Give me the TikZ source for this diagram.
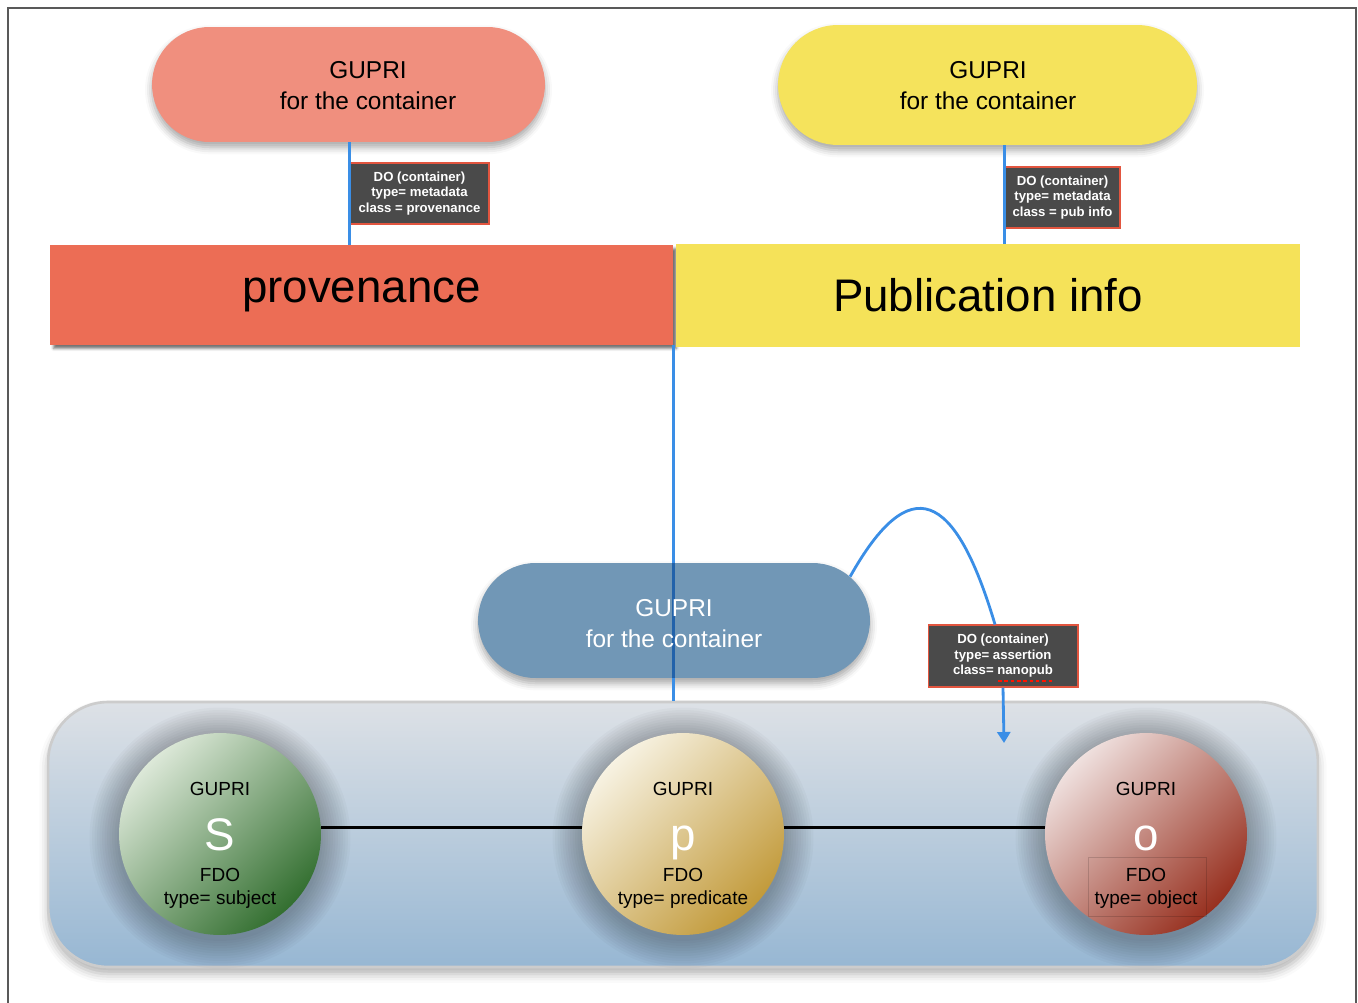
\documentclass[tikz,border=0pt]{standalone}
\usepackage{fontspec}
\setmainfont{Liberation Sans}
\usetikzlibrary{arrows.meta, shapes.misc, calc, shadows.blur}

\definecolor{pillred}{HTML}{F08F7E}
\definecolor{pillyellow}{HTML}{F5E35C}
\definecolor{pillblue}{HTML}{7197B6}
\definecolor{provred}{HTML}{EC6D55}
\definecolor{pubyellow}{HTML}{F5E259}
\definecolor{linkblue}{HTML}{3A8EE6}
\definecolor{linkdark}{HTML}{2262AA}
\definecolor{tagfill}{HTML}{4A4A4A}
\definecolor{tagline}{HTML}{E2553F}
\definecolor{traytop}{HTML}{DDE1E6}
\definecolor{traybottom}{HTML}{97B7D3}
\definecolor{sLite}{HTML}{DCE8D8}
\definecolor{sDark}{HTML}{336F30}
\definecolor{pLite}{HTML}{F7F2E2}
\definecolor{pDark}{HTML}{C29A3A}
\definecolor{oLite}{HTML}{EFE0DE}
\definecolor{oDark}{HTML}{97301F}

\begin{document}
\begin{tikzpicture}[x=0.02cm, y=-0.02cm,
    pill/.style={rounded rectangle, inner sep=0pt,
        blur shadow={shadow xshift=0pt, shadow yshift=-3pt, shadow blur radius=4pt, shadow opacity=35}},
    pilltext/.style={align=center, font=\fontsize{13.9}{17.6}\selectfont},
    band/.style={inner sep=0pt, minimum height=2cm, font=\fontsize{26}{30}\selectfont},
    tag/.style={draw=tagline, line width=0.6pt, fill=tagfill, text=white, inner sep=0pt,
        align=center, minimum height=1.22cm, font=\fontsize{7.5}{8.8}\selectfont\bfseries},
    link/.style={linkblue, line width=1.6pt},
    tray/.style={rounded corners=1.2cm, draw=black!20, line width=1.5pt, inner sep=0pt,
        top color=traytop, bottom color=traybottom,
        blur shadow={shadow xshift=0pt, shadow yshift=-4pt, shadow blur radius=5pt, shadow opacity=30}},
    fdo/.style={circle, minimum size=4.04cm, inner sep=0pt},
    halo/.style={black, opacity=0.022},
    fdotext/.style={align=center, font=\fontsize{10.8}{13}\selectfont},
    letter/.style={anchor=base, text=white, font=\fontsize{26}{30}\selectfont},
    triple/.style={black, line width=1.7pt}
]
\useasboundingbox (0,0) rectangle (1358,1003);
% page frame
\draw[black!65, line width=1.1pt] (8,1003) -- (8,8) -- (1356,8) -- (1356,1003);

% container with the three FDOs
\node[tray, minimum width=25.4cm, minimum height=5.3cm] (tray) at (683,834.5) {};

% provenance and publication info
\node[band, fill=provred, minimum width=12.46cm,
    blur shadow={shadow xshift=2pt, shadow yshift=-2pt, shadow blur radius=1.5pt, shadow opacity=55}]
    (provRect) at (361.5,295) {provenance};
\node[band, fill=pubyellow, minimum width=12.48cm, minimum height=2.06cm] (pubRect) at (988,295.5) {Publication info};

% GUPRI pills
\node[pill, fill=pillred, minimum width=7.86cm, minimum height=2.3cm] (pillProv) at (348.5,84.5) {};
\node[pill, fill=pillyellow, minimum width=8.38cm, minimum height=2.4cm] (pillPub) at (987.5,85) {};
\node[pill, fill=pillblue, minimum width=7.84cm, minimum height=2.3cm] (pillMid) at (674,620.5) {};

% tags
\node[tag, minimum width=2.78cm] (tagProv) at (419.5,193.5) {DO (container)\\type= metadata\\class = provenance};
\node[tag, minimum width=2.3cm] (tagPub) at (1062.5,197.5) {DO (container)\\type= metadata\\class = pub info};
\node[tag, minimum width=3.0cm, minimum height=1.24cm] (tagNano) at (1003,656) {DO (container)\\type= assertion\\class= nanopub};
\draw[red!85!orange, line width=0.9pt, dash pattern=on 2pt off 1.6pt] (998,681) -- (1054,681);

% links
\draw[link] (pillProv.south -| tagProv.west) -- (provRect.north -| tagProv.west);
\draw[link] (pillPub.south -| tagPub.west) -- (pubRect.north -| tagPub.west);
\draw[link] (provRect.south east) -- (provRect.south east |- tray.north);
\draw[link, linkdark] (provRect.south east |- pillMid.north) -- (provRect.south east |- pillMid.south);
\draw[link] (pillMid.14) .. controls (910,470) and (955,490) .. ($(tagNano.north)+(-8,0)$);
\coordinate (nanoTip) at (1004,743);
\draw[link, -{Triangle[width=0.26cm, length=0.22cm]}] (tagNano.south) -- (nanoTip);

% pill texts
\node[pilltext] (txtProv) at (368,86) {GUPRI\\for the container};
\node[pilltext] (txtPub) at (988,86) {GUPRI\\for the container};
\node[pilltext, text=white] (txtMid) at (674,624) {GUPRI\\for the container};

% subject, predicate, object
\foreach \nm/\cx/\ltr/\kind/\lite/\dark in {S/220/S/subject/sLite/sDark,
        P/683/p/predicate/pLite/pDark, O/1146/o/object/oLite/oDark} {
    \foreach \r in {2.06,2.11,...,2.66}
        \fill[halo] (\cx,838) circle[radius=\r cm];
    \node[fdo, top color=\lite, bottom color=\dark, shading angle=45] (circ\nm) at (\cx,834) {};
    \node[fdotext] (gupri\nm) at (\cx,789) {GUPRI};
    \node[letter] (ltr\nm) at (\cx,850) {\ltr};
    \node[fdotext] (kind\nm) at (\cx,888) {FDO\\type= \kind};
}
\draw[black, draw opacity=0.15, line width=0.5pt] (1088,857) rectangle (1206,916);
\draw[triple] ([yshift=0.14cm]circS.east) -- ([yshift=0.14cm]circP.west);
\draw[triple] ([yshift=0.14cm]circP.east) -- ([yshift=0.14cm]circO.west);
\end{tikzpicture}
\end{document}
